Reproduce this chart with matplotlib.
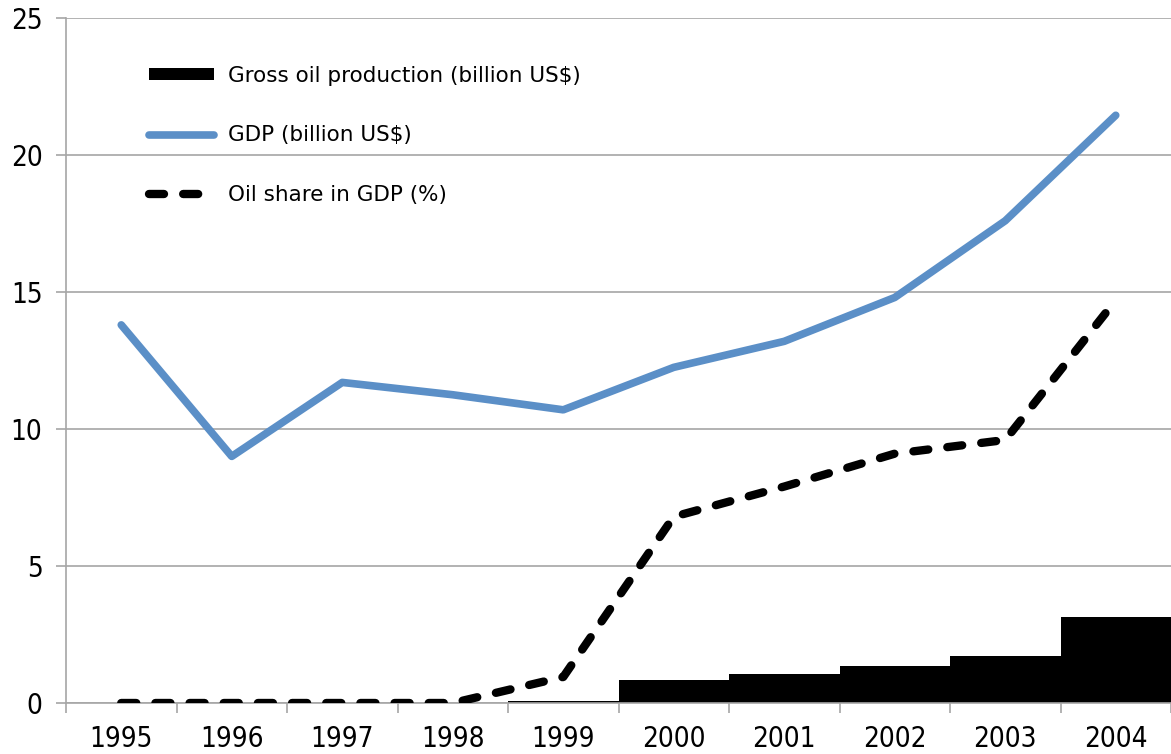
import matplotlib
matplotlib.use('Agg')
import matplotlib.pyplot as plt
import numpy as np

years = ['1995', '1996', '1997', '1998', '1999', '2000', '2001', '2002', '2003', '2004']
oil_production = [0, 0, 0, 0, 0.08, 0.85, 1.05, 1.35, 1.7, 3.15]
gdp = [13.8, 9.0, 11.7, 11.25, 10.7, 12.25, 13.2, 14.8, 17.6, 21.45]
oil_share = [0, 0, 0, 0, 0.95, 6.8, 7.9, 9.1, 9.6, 14.7]

grey = '#A6A6A6'

fig = plt.figure(figsize=(11.71, 7.54), dpi=100)
ax = fig.add_axes([66 / 1171, 1 - 703 / 754, 1 - 66 / 1171, (703 - 18) / 754])

x = np.arange(len(years))
bars = ax.bar(x, oil_production, width=1.0, color='black', linewidth=0,
              label='Gross oil production (billion US$)', zorder=2)
line_gdp, = ax.plot(x, gdp, color='#5B8FC7', lw=5.5, solid_capstyle='round',
                    label='GDP (billion US$)', zorder=3)
line_share, = ax.plot(x, oil_share, color='black', lw=6, dash_capstyle='round',
                      linestyle=(0, (1.8, 2.3)), label='Oil share in GDP (%)', zorder=4)

ax.set_xlim(-0.5, len(years) - 0.5)
ax.set_ylim(0, 25)
ax.set_yticks(range(0, 26, 5))
ax.yaxis.grid(True, color=grey, lw=1.2)
ax.set_axisbelow(True)

ax.set_xticks(x)
ax.set_xticklabels(years)
ax.set_xticks(np.arange(-0.5, len(years), 1.0), minor=True)
ax.tick_params(axis='x', which='major', length=0, pad=16)
ax.tick_params(axis='x', which='minor', length=7, color=grey, width=1.2)
ax.tick_params(axis='y', length=7, color=grey, width=1.2, pad=10)
for lab in ax.get_xticklabels() + ax.get_yticklabels():
    lab.set_fontsize(20)
    lab.set_fontstretch('condensed')

for s in ['top', 'right']:
    ax.spines[s].set_visible(False)
for s in ['left', 'bottom']:
    ax.spines[s].set_color(grey)
    ax.spines[s].set_linewidth(1.2)

leg = ax.legend([bars, line_gdp, line_share],
                ['Gross oil production (billion US$)', 'GDP (billion US$)', 'Oil share in GDP (%)'],
                loc='upper left', bbox_to_anchor=(0.0675, 0.943), frameon=False,
                fontsize=15.5, handlelength=3.0, handleheight=0.5,
                labelspacing=1.85, handletextpad=0.65, borderaxespad=0)

fig.savefig('out.png', dpi=100)
